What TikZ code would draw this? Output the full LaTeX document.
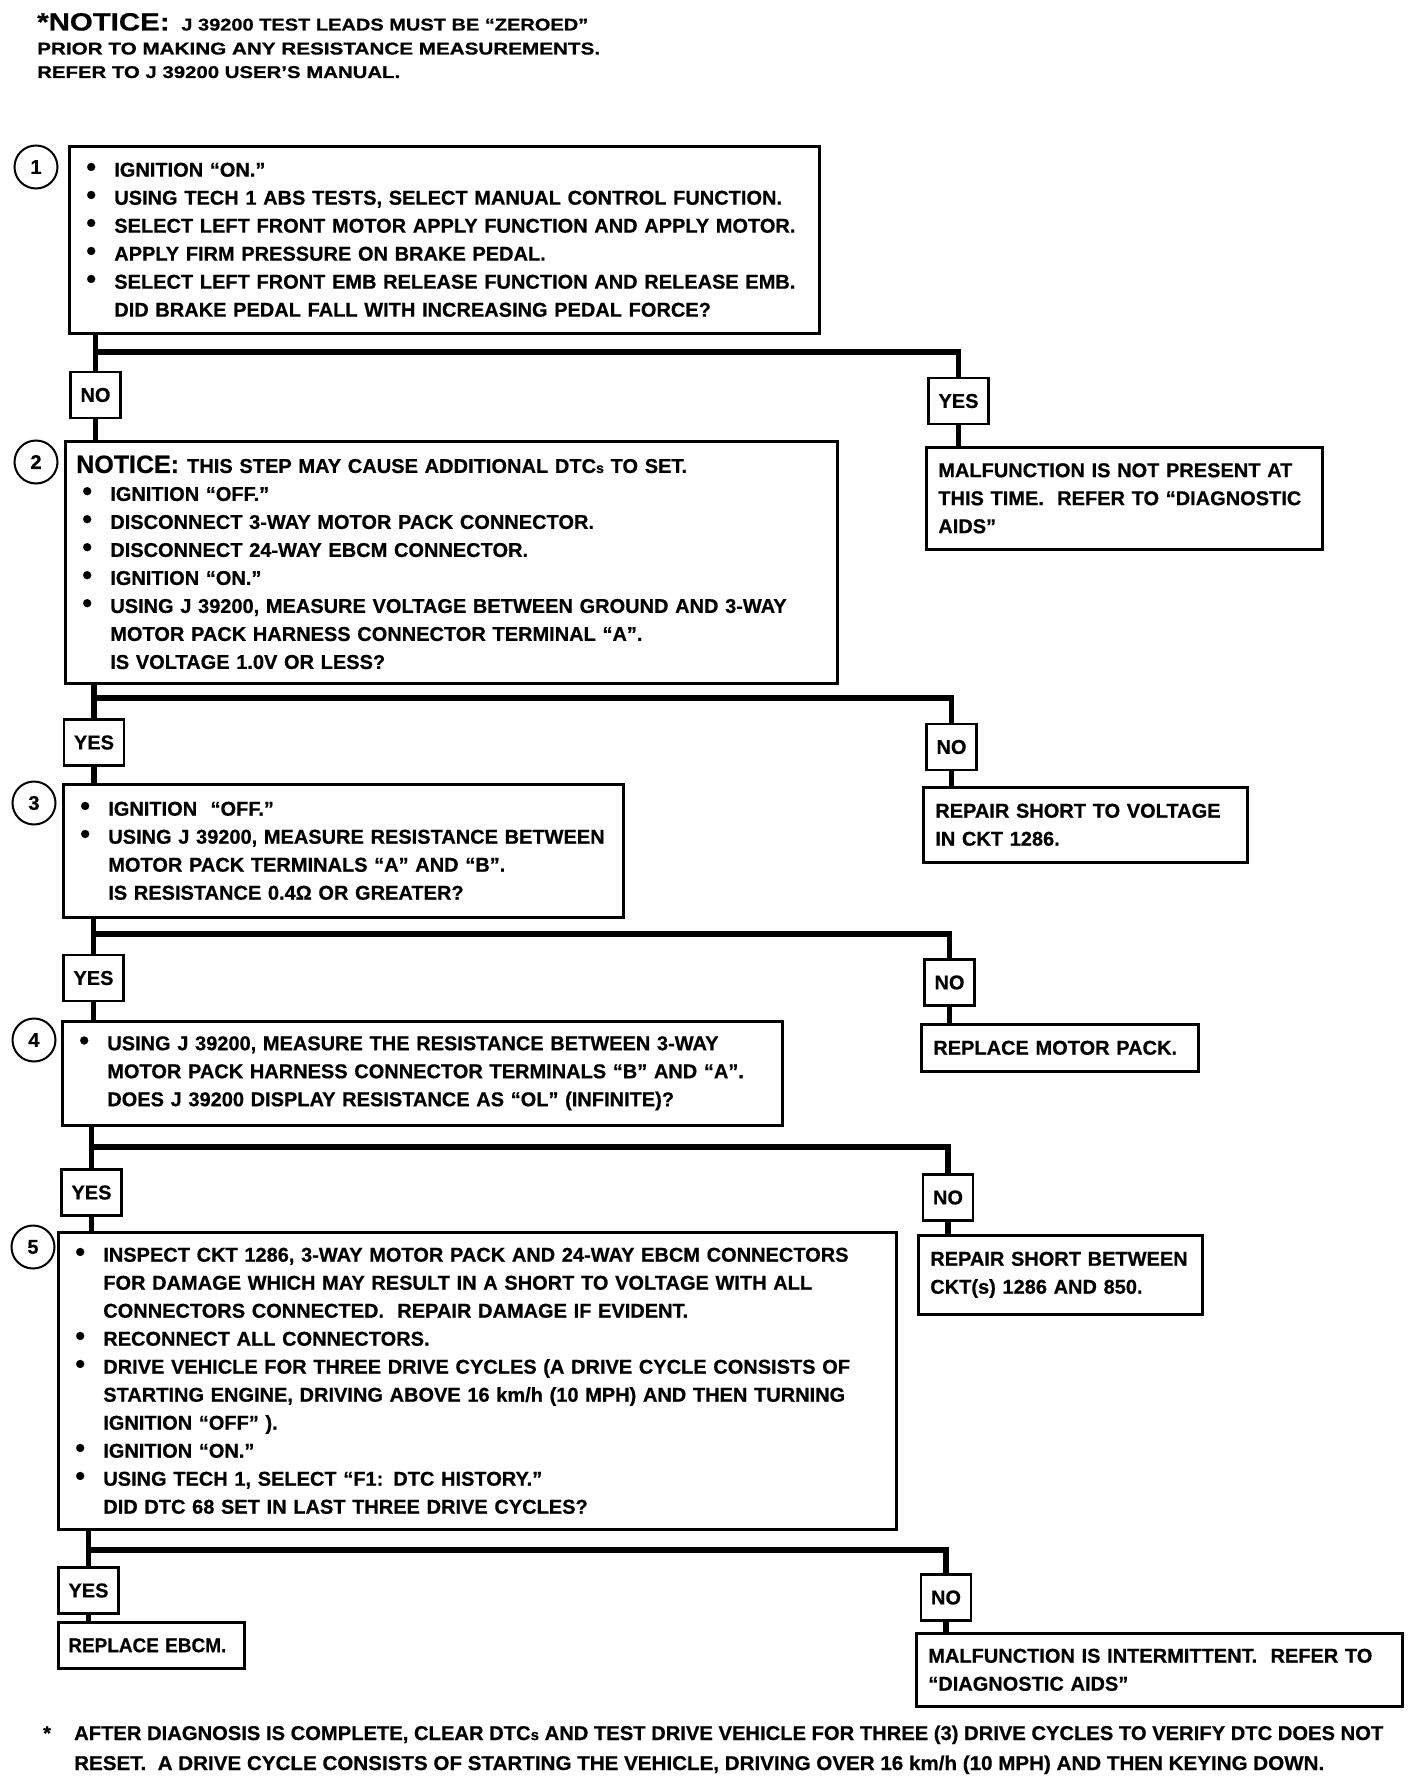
\documentclass[tikz,border=0pt]{standalone}
\usepackage{fontspec}
\usepackage{graphicx}
\setmainfont{Liberation Sans}[BoldFeatures={FakeBold=0.6}]
\newcommand\bl{\makebox[28pt][l]{\raisebox{0.5pt}{\scalebox{1.4}{\textbullet}}}}
\newcommand\ind{\hspace*{28pt}}
\newcommand\fw[2]{\resizebox{#1}{\height}{#2}}
\tikzset{
  box/.style={draw, line width=2.6pt, anchor=north west, inner xsep=17pt, inner ysep=0pt,
    align=left, font=\bfseries\fontsize{20}{28}\selectfont},
  rbox/.style={box, inner xsep=12pt},
  lab/.style={draw, line width=2.6pt, inner xsep=10pt, inner ysep=0pt, minimum height=46pt,
    font=\bfseries\fontsize{20}{24}\selectfont},
  conn/.style={line width=5.5pt},
  num/.style={circle, draw, line width=2pt, minimum size=43pt, inner sep=0pt,
    font=\bfseries\fontsize{20}{24}\selectfont},
  txt/.style={anchor=base west, inner sep=0pt, font=\bfseries\fontsize{17}{20}\selectfont}
}
\begin{document}
\begin{tikzpicture}[x=1pt,y=-1pt]
\path[fill=white,use as bounding box] (0,0) rectangle (1408,1782);

% header
\node[txt] (h1) at (37,30.5) {\fw{551pt}{{\fontsize{25}{25}\selectfont *NOTICE:}\hspace{10pt}J 39200 TEST LEADS MUST BE “ZEROED”}};
\node[txt] (h2) at (37,54.5) {\fw{563pt}{PRIOR TO MAKING ANY RESISTANCE MEASUREMENTS.}};
\node[txt] (h3) at (37,78) {\fw{363pt}{REFER TO J 39200 USER’S MANUAL.}};

% step 1
\node[num] (c1) at (36,167) {1};
\node[box, text width=716pt, minimum height=187pt] (b1) at (68,145) {%
\bl IGNITION “ON.”\\
\bl USING TECH 1 ABS TESTS, SELECT MANUAL CONTROL FUNCTION.\\
\bl SELECT LEFT FRONT MOTOR APPLY FUNCTION AND APPLY MOTOR.\\
\bl APPLY FIRM PRESSURE ON BRAKE PEDAL.\\
\bl SELECT LEFT FRONT EMB RELEASE FUNCTION AND RELEASE EMB.\\
\ind DID BRAKE PEDAL FALL WITH INCREASING PEDAL FORCE?};
\node[lab] (l1n) at (95.5,395) {NO};
\node[lab] (l1y) at (958.5,401) {YES};
\node[rbox, text width=372pt, minimum height=102pt] (r1) at (925,446) {%
MALFUNCTION IS NOT PRESENT AT\\
THIS TIME.\ \ REFER TO “DIAGNOSTIC\\
AIDS”};

% step 2
\node[num] (c2) at (36,462) {2};
\node[box, text width=738pt, minimum height=242pt] (b2) at (64,440) {%
\hspace*{-6pt}{\fontsize{25}{28}\selectfont NOTICE:}\hspace{8pt}\fw{500pt}{THIS STEP MAY CAUSE ADDITIONAL DTC{\fontsize{14}{28}\selectfont s} TO SET.}\\
\bl IGNITION “OFF.”\\
\bl DISCONNECT 3-WAY MOTOR PACK CONNECTOR.\\
\bl DISCONNECT 24-WAY EBCM CONNECTOR.\\
\bl IGNITION “ON.”\\
\bl USING J 39200, MEASURE VOLTAGE BETWEEN GROUND AND 3-WAY\\
\ind MOTOR PACK HARNESS CONNECTOR TERMINAL “A”.\\
\ind IS VOLTAGE 1.0V OR LESS?};
\node[lab] (l2y) at (94,742.5) {YES};
\node[lab] (l2n) at (951.5,747) {NO};
\node[rbox, text width=300pt, minimum height=75pt] (r2) at (922,786) {%
REPAIR SHORT TO VOLTAGE\\
IN CKT 1286.};

% step 3
\node[num] (c3) at (34,803) {3};
\node[box, text width=526pt, minimum height=133pt] (b3) at (62,783) {%
\bl IGNITION\ \ “OFF.”\\
\bl USING J 39200, MEASURE RESISTANCE BETWEEN\\
\ind MOTOR PACK TERMINALS “A” AND “B”.\\
\ind IS RESISTANCE 0.4Ω OR GREATER?};
\node[lab] (l3y) at (93.5,978) {YES};
\node[lab] (l3n) at (949.5,982.5) {NO};
\node[rbox, text width=253pt, minimum height=47pt] (r3) at (920,1023) {%
REPLACE MOTOR PACK.};

% step 4
\node[num] (c4) at (34,1040) {4};
\node[box, text width=686pt, minimum height=104pt] (b4) at (61,1020) {%
\bl USING J 39200, MEASURE THE RESISTANCE BETWEEN 3-WAY\\
\ind MOTOR PACK HARNESS CONNECTOR TERMINALS “B” AND “A”.\\
\ind DOES J 39200 DISPLAY RESISTANCE AS “OL” (INFINITE)?};
\node[lab] (l4y) at (91.5,1192.5) {YES};
\node[lab] (l4n) at (948,1197.5) {NO};
\node[rbox, text width=260pt, minimum height=79pt] (r4) at (917,1234) {%
REPAIR SHORT BETWEEN\\
CKT(s) 1286 AND 850.};

% step 5
\node[num] (c5) at (33,1247) {5};
\node[box, text width=804pt, minimum height=297pt] (b5) at (57,1231) {%
\bl INSPECT CKT 1286, 3-WAY MOTOR PACK AND 24-WAY EBCM CONNECTORS\\
\ind FOR DAMAGE WHICH MAY RESULT IN A SHORT TO VOLTAGE WITH ALL\\
\ind CONNECTORS CONNECTED.\ \ REPAIR DAMAGE IF EVIDENT.\\
\bl RECONNECT ALL CONNECTORS.\\
\bl DRIVE VEHICLE FOR THREE DRIVE CYCLES (A DRIVE CYCLE CONSISTS OF\\
\ind STARTING ENGINE, DRIVING ABOVE 16 km/h (10 MPH) AND THEN TURNING\\
\ind IGNITION “OFF” ).\\
\bl IGNITION “ON.”\\
\bl USING TECH 1, SELECT “F1: DTC HISTORY.”\\
\ind DID DTC 68 SET IN LAST THREE DRIVE CYCLES?};
\node[lab] (l5y) at (88.5,1590.5) {YES};
\node[lab] (l5n) at (946,1597.5) {NO};
\node[rbox, inner xsep=10pt, text width=166pt, minimum height=46pt] (r5) at (57,1621) {%
\fw{158pt}{REPLACE EBCM.}};
\node[rbox, text width=462pt, minimum height=73pt] (r6) at (915,1632) {%
MALFUNCTION IS INTERMITTENT.\ \ REFER TO\\
“DIAGNOSTIC AIDS”};

% footnote
\node[txt, font=\bfseries\fontsize{20}{24}\selectfont] (fs) at (43,1740) {*};
\node[txt, font=\bfseries\fontsize{20}{24}\selectfont] (f1) at (74,1740) {\fw{1309pt}{AFTER DIAGNOSIS IS COMPLETE, CLEAR DTC{\fontsize{15}{24}\selectfont s} AND TEST DRIVE VEHICLE FOR THREE (3) DRIVE CYCLES TO VERIFY DTC DOES NOT}};
\node[txt, font=\bfseries\fontsize{20}{24}\selectfont] (f2) at (74,1770) {\fw{1250pt}{RESET.\ \ A DRIVE CYCLE CONSISTS OF STARTING THE VEHICLE, DRIVING OVER 16 km/h (10 MPH) AND THEN KEYING DOWN.}};

% connectors
\coordinate (y1) at (0,352);
\coordinate (y2) at (0,698);
\coordinate (y3) at (0,934);
\coordinate (y4) at (0,1147);
\coordinate (y5) at (0,1550);

\draw[conn] (b1.south -| l1n) -- (l1n.north);
\draw[conn] (l1n |- y1) -| (l1y.north);
\draw[conn] (l1y.south) -- (l1y.south |- r1.north);
\draw[conn] (l1n.south) -- (l1n.south |- b2.north);

\draw[conn] (b2.south -| l2y) -- (l2y.north);
\draw[conn] (l2y |- y2) -| (l2n.north);
\draw[conn] (l2n.south) -- (l2n.south |- r2.north);
\draw[conn] (l2y.south) -- (l2y.south |- b3.north);

\draw[conn] (b3.south -| l3y) -- (l3y.north);
\draw[conn] (l3y |- y3) -| (l3n.north);
\draw[conn] (l3n.south) -- (l3n.south |- r3.north);
\draw[conn] (l3y.south) -- (l3y.south |- b4.north);

\draw[conn] (b4.south -| l4y) -- (l4y.north);
\draw[conn] (l4y |- y4) -| (l4n.north);
\draw[conn] (l4n.south) -- (l4n.south |- r4.north);
\draw[conn] (l4y.south) -- (l4y.south |- b5.north);

\draw[conn] (b5.south -| l5y) -- (l5y.north);
\draw[conn] (l5y |- y5) -| (l5n.north);
\draw[conn] (l5n.south) -- (l5n.south |- r6.north);
\draw[conn] (l5y.south) -- (l5y.south |- r5.north);
\end{tikzpicture}
\end{document}
